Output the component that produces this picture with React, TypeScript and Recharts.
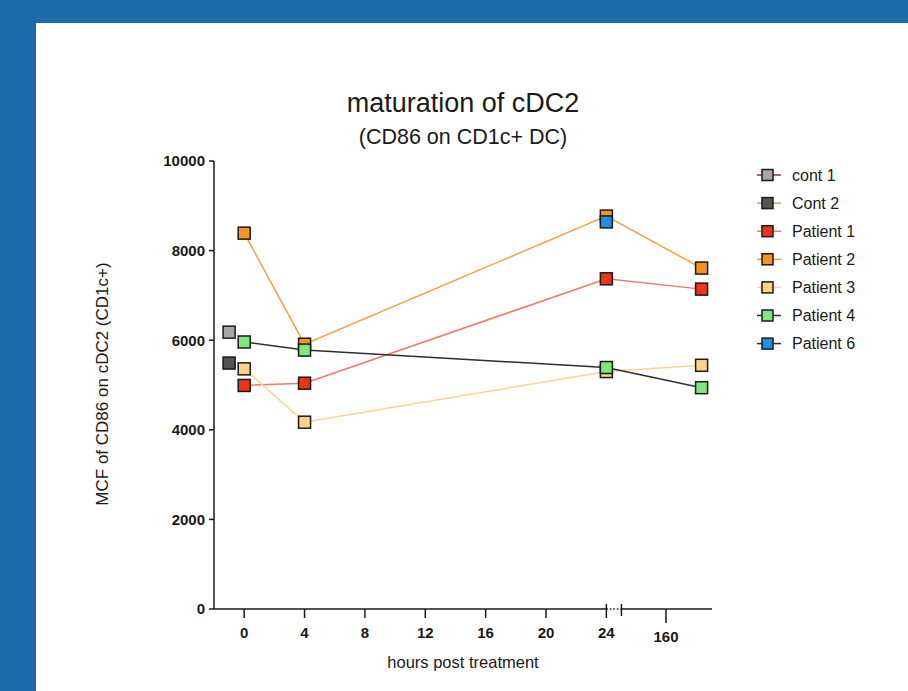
import { LineChart, Line, XAxis, YAxis, ReferenceLine } from "recharts";

// time points (hours); controls were measured once, drawn just left of 0
const HOURS = [0, 4, 24, 168];
const CONTROL_HOURS = [-1];
const P6_HOURS = [24];

// MCF of CD86 on cDC2
const cont1 = [6180];
const cont2 = [5490];
const patient1 = [4990, 5040, 7370, 7140];
const patient2 = [8390, 5910, 8770, 7610];
const patient3 = [5360, 4170, 5300, 5440];
const patient4 = [5960, 5780, 5390, 4940];
const patient6 = [8640];

const X_TICK_LABELS = [0, 4, 8, 12, 16, 20, 24, 160];
const Y_TICKS = [0, 2000, 4000, 6000, 8000, 10000];

// broken x axis: 0..24 linear, then a compressed segment from 150 h
const BREAK_AT = 24;
const RESUME_AT = 150;
const LATE_SCALE = 0.295;
const axisPos = (h: number) =>
  h <= BREAK_AT ? h : BREAK_AT + 1 + (h - RESUME_AT) * LATE_SCALE;
const X_MIN = -2;
const X_MAX = 31;

const series = [
  { name: "cont 1", hours: CONTROL_HOURS, values: cont1, fill: "#a6a6a6", line: "#9b2d3c" },
  { name: "Cont 2", hours: CONTROL_HOURS, values: cont2, fill: "#555555", line: "#caa56a" },
  { name: "Patient 1", hours: HOURS, values: patient1, fill: "#ec3517", line: "#ef7668" },
  { name: "Patient 2", hours: HOURS, values: patient2, fill: "#f8931f", line: "#f0a444" },
  { name: "Patient 3", hours: HOURS, values: patient3, fill: "#fdd487", line: "#f8d49a" },
  { name: "Patient 4", hours: HOURS, values: patient4, fill: "#7ce77c", line: "#2e2e2e" },
  { name: "Patient 6", hours: P6_HOURS, values: patient6, fill: "#1e8fe3", line: "#1a2a4a" },
];

const INK = "#1a1a1a";
const FONT = "'Liberation Sans', Arial, sans-serif";

const xTicks = [...X_TICK_LABELS.map(axisPos), BREAK_AT + 1];

function XTick(props: any) {
  const { x, y, payload } = props;
  const v = payload.value;
  if (v === BREAK_AT + 1) {
    return <line x1={x} x2={x} y1={y - 5} y2={y + 7} stroke={INK} strokeWidth={1.5} />;
  }
  const idx = X_TICK_LABELS.findIndex((h) => axisPos(h) === v);
  const late = v > BREAK_AT + 1;
  return (
    <g>
      {v === BREAK_AT ? (
        <line x1={x} x2={x} y1={y - 5} y2={y + 9} stroke={INK} strokeWidth={1.5} />
      ) : (
        <line x1={x} x2={x} y1={y} y2={y + (late ? 14 : 9)} stroke={INK} strokeWidth={1.5} />
      )}
      <text
        x={x}
        y={y + (late ? 33 : 29)}
        textAnchor="middle"
        fontFamily={FONT}
        fontWeight="bold"
        fontSize={15}
        fill={INK}
      >
        {X_TICK_LABELS[idx]}
      </text>
    </g>
  );
}

const squareDot = (fill: string) => (p: any) => (
  <rect
    key={`${p.index}`}
    x={p.cx - 6}
    y={p.cy - 6}
    width={12}
    height={12}
    fill={fill}
    stroke={INK}
    strokeWidth={1.5}
  />
);

export default function App() {
  return (
    <div
      style={{
        position: "absolute",
        left: 0,
        top: 0,
        width: 908,
        height: 691,
        background: "#1b6ca8",
        overflow: "hidden",
      }}
    >
      <div
        style={{ position: "absolute", left: 36, top: 23, right: 0, bottom: 0, background: "#fff" }}
      />
      <div style={{ position: "absolute", left: 0, top: 0 }}>
        <LineChart width={908} height={691} margin={{ top: 161, right: 196, bottom: 42, left: 154 }}>
          <XAxis
            type="number"
            dataKey="x"
            domain={[X_MIN, X_MAX]}
            ticks={xTicks}
            allowDataOverflow
            axisLine={false}
            tickLine={false}
            tickSize={0}
            tickMargin={0}
            height={40}
            interval={0}
            tick={<XTick />}
          />
          <YAxis
            type="number"
            domain={[0, 10000]}
            ticks={Y_TICKS}
            width={60}
            axisLine={{ stroke: INK, strokeWidth: 1.5 }}
            tickLine={{ stroke: INK, strokeWidth: 1.5 }}
            tickSize={5}
            tickMargin={4}
            tick={{ fontFamily: FONT, fontWeight: "bold", fontSize: 15, fill: INK }}
          />
          <ReferenceLine
            segment={[{ x: X_MIN, y: 0 }, { x: BREAK_AT, y: 0 }]}
            stroke={INK}
            strokeWidth={1.5}
          />
          <ReferenceLine
            segment={[{ x: BREAK_AT + 1, y: 0 }, { x: X_MAX, y: 0 }]}
            stroke={INK}
            strokeWidth={1.5}
          />
          <ReferenceLine
            segment={[{ x: BREAK_AT, y: 0 }, { x: BREAK_AT + 1, y: 0 }]}
            stroke={INK}
            strokeWidth={1.5}
            strokeDasharray="1.5 2"
          />
          {series.map((s) => (
            <Line
              key={s.name}
              name={s.name}
              data={s.hours.map((h, i) => ({ x: axisPos(h), y: s.values[i] }))}
              dataKey="y"
              stroke={s.line}
              strokeWidth={1.5}
              dot={squareDot(s.fill)}
              activeDot={false}
              isAnimationActive={false}
            />
          ))}
        </LineChart>
      </div>
      <svg
        width={908}
        height={691}
        style={{ position: "absolute", left: 0, top: 0, pointerEvents: "none" }}
      >
        <text x={463} y={112} textAnchor="middle" fontFamily={FONT} fontSize={27} fill={INK}>
          maturation of cDC2
        </text>
        <text x={463} y={144} textAnchor="middle" fontFamily={FONT} fontSize={21.5} fill={INK}>
          (CD86 on CD1c+ DC)
        </text>
        <text
          transform="translate(108,384) rotate(-90)"
          textAnchor="middle"
          fontFamily={FONT}
          fontSize={17}
          fill={INK}
        >
          MCF of CD86 on cDC2 (CD1c+)
        </text>
        <text x={463} y={668} textAnchor="middle" fontFamily={FONT} fontSize={16.5} fill={INK}>
          hours post treatment
        </text>
        {series.map((s, i) => {
          const cy = 175 + i * 28.1;
          return (
            <g key={s.name}>
              <line x1={757} x2={781} y1={cy} y2={cy} stroke={s.line} strokeWidth={1.5} />
              <rect x={762} y={cy - 5.5} width={11} height={11} fill={s.fill} stroke={INK} strokeWidth={1.5} />
              <text x={792} y={cy + 5.5} fontFamily={FONT} fontSize={16} fill={INK}>
                {s.name}
              </text>
            </g>
          );
        })}
      </svg>
    </div>
  );
}
